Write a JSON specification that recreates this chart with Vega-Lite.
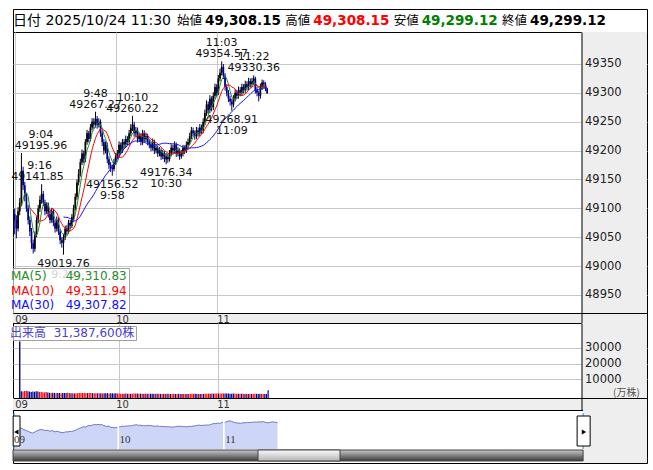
{
  "$schema": "https://vega.github.io/schema/vega-lite/v6.json",
  "background": "white",
  "padding": {"left": 10, "right": 9, "top": 8, "bottom": 8},
  "spacing": 0,
  "bounds": "flush",
  "config": {
    "view": {"stroke": "#000", "strokeWidth": 1},
    "font": "DejaVu Sans",
    "axis": {"labelFont": "DejaVu Sans", "titleFont": "DejaVu Sans", "labelOverlap": false}
  },
  "resolve": {"scale": {"color": "independent", "shape": "independent"}, "legend": {"color": "independent", "shape": "independent"}},
  "datasets": {
    "hdr": [
      {"lbl": "始値", "val": "49,308.15"},
      {"lbl": "高値", "val": "49,308.15"},
      {"lbl": "安値", "val": "49,299.12"},
      {"lbl": "終値", "val": "49,299.12"}
    ],
    "hdrDate": [{"lbl": "始値", "date": "日付 2025/10/24 11:30"}],
    "ann": [
      {"m": 4, "p": 49195.96, "t": "9:04", "v": "49195.96", "k": "hi"},
      {"m": 16, "p": 49141.85, "t": "9:16", "v": "49141.85", "k": "hi"},
      {"m": 48, "p": 49267.27, "t": "9:48", "v": "49267.27", "k": "hi"},
      {"m": 70, "p": 49260.22, "t": "10:10", "v": "49260.22", "k": "hi"},
      {"m": 123, "p": 49354.57, "t": "11:03", "v": "49354.57", "k": "hi"},
      {"m": 142, "p": 49330.36, "t": "11:22", "v": "49330.36", "k": "hi"},
      {"m": 29, "p": 49019.76, "t": "9:29", "v": "49019.76", "k": "lo"},
      {"m": 58, "p": 49156.52, "t": "9:58", "v": "49156.52", "k": "lo"},
      {"m": 90, "p": 49176.34, "t": "10:30", "v": "49176.34", "k": "lo"},
      {"m": 129, "p": 49268.91, "t": "11:09", "v": "49268.91", "k": "lo"}
    ],
    "k": [
      {"m":0,"o":49090,"h":49100,"l":49055,"c":49080,"v":34000},
      {"m":1,"o":49080,"h":49088,"l":49048,"c":49065,"v":2500},
      {"m":2,"o":49065,"h":49102,"l":49060,"c":49095,"v":2300},
      {"m":3,"o":49095,"h":49118,"l":49088,"c":49110,"v":2600},
      {"m":4,"o":49110,"h":49195.96,"l":49104,"c":49165,"v":2800},
      {"m":5,"o":49165,"h":49172,"l":49132,"c":49140,"v":2400},
      {"m":6,"o":49140,"h":49146,"l":49112,"c":49120,"v":2200},
      {"m":7,"o":49120,"h":49126,"l":49094,"c":49100,"v":2000},
      {"m":8,"o":49100,"h":49106,"l":49072,"c":49080,"v":2300},
      {"m":9,"o":49080,"h":49086,"l":49052,"c":49060,"v":2100},
      {"m":10,"o":49060,"h":49066,"l":49030,"c":49040,"v":2400},
      {"m":11,"o":49040,"h":49046,"l":49022,"c":49030,"v":2200},
      {"m":12,"o":49030,"h":49060,"l":49025,"c":49055,"v":2000},
      {"m":13,"o":49055,"h":49086,"l":49050,"c":49080,"v":1900},
      {"m":14,"o":49080,"h":49106,"l":49074,"c":49100,"v":1800},
      {"m":15,"o":49100,"h":49122,"l":49094,"c":49115,"v":1700},
      {"m":16,"o":49115,"h":49141.85,"l":49108,"c":49125,"v":1900},
      {"m":17,"o":49125,"h":49130,"l":49104,"c":49110,"v":1600},
      {"m":18,"o":49110,"h":49115,"l":49088,"c":49095,"v":1500},
      {"m":19,"o":49095,"h":49111,"l":49090,"c":49105,"v":1400},
      {"m":20,"o":49105,"h":49110,"l":49084,"c":49090,"v":1500},
      {"m":21,"o":49090,"h":49096,"l":49074,"c":49080,"v":1400},
      {"m":22,"o":49080,"h":49101,"l":49075,"c":49095,"v":1300},
      {"m":23,"o":49095,"h":49099,"l":49069,"c":49075,"v":1400},
      {"m":24,"o":49075,"h":49080,"l":49058,"c":49065,"v":1300},
      {"m":25,"o":49065,"h":49086,"l":49060,"c":49080,"v":1200},
      {"m":26,"o":49080,"h":49084,"l":49054,"c":49060,"v":1300},
      {"m":27,"o":49060,"h":49064,"l":49038,"c":49045,"v":1400},
      {"m":28,"o":49045,"h":49050,"l":49032,"c":49040,"v":1300},
      {"m":29,"o":49040,"h":49056,"l":49019.76,"c":49050,"v":1500},
      {"m":30,"o":49050,"h":49070,"l":49045,"c":49065,"v":1300},
      {"m":31,"o":49065,"h":49071,"l":49054,"c":49060,"v":1100},
      {"m":32,"o":49060,"h":49080,"l":49056,"c":49075,"v":1100},
      {"m":33,"o":49075,"h":49080,"l":49064,"c":49070,"v":1000},
      {"m":34,"o":49070,"h":49090,"l":49066,"c":49085,"v":1100},
      {"m":35,"o":49085,"h":49106,"l":49080,"c":49100,"v":1200},
      {"m":36,"o":49100,"h":49126,"l":49096,"c":49120,"v":1300},
      {"m":37,"o":49120,"h":49150,"l":49115,"c":49145,"v":1400},
      {"m":38,"o":49145,"h":49168,"l":49140,"c":49160,"v":1300},
      {"m":39,"o":49160,"h":49186,"l":49155,"c":49180,"v":1300},
      {"m":40,"o":49180,"h":49202,"l":49175,"c":49195,"v":1400},
      {"m":41,"o":49195,"h":49200,"l":49178,"c":49185,"v":1200},
      {"m":42,"o":49185,"h":49220,"l":49180,"c":49215,"v":1300},
      {"m":43,"o":49215,"h":49236,"l":49210,"c":49230,"v":1300},
      {"m":44,"o":49230,"h":49234,"l":49214,"c":49220,"v":1200},
      {"m":45,"o":49220,"h":49246,"l":49216,"c":49240,"v":1200},
      {"m":46,"o":49240,"h":49256,"l":49235,"c":49250,"v":1200},
      {"m":47,"o":49250,"h":49256,"l":49238,"c":49245,"v":1100},
      {"m":48,"o":49245,"h":49267.27,"l":49240,"c":49255,"v":1200},
      {"m":49,"o":49255,"h":49260,"l":49238,"c":49245,"v":1100},
      {"m":50,"o":49245,"h":49256,"l":49240,"c":49250,"v":1000},
      {"m":51,"o":49250,"h":49254,"l":49224,"c":49230,"v":1100},
      {"m":52,"o":49230,"h":49235,"l":49208,"c":49215,"v":1100},
      {"m":53,"o":49215,"h":49220,"l":49193,"c":49200,"v":1200},
      {"m":54,"o":49200,"h":49216,"l":49195,"c":49210,"v":1000},
      {"m":55,"o":49210,"h":49214,"l":49178,"c":49185,"v":1100},
      {"m":56,"o":49185,"h":49190,"l":49168,"c":49175,"v":1100},
      {"m":57,"o":49175,"h":49180,"l":49163,"c":49170,"v":1000},
      {"m":58,"o":49170,"h":49176,"l":49156.52,"c":49168,"v":1200},
      {"m":59,"o":49168,"h":49186,"l":49164,"c":49180,"v":1000},
      {"m":60,"o":49180,"h":49196,"l":49175,"c":49190,"v":1000},
      {"m":61,"o":49190,"h":49201,"l":49185,"c":49195,"v":900},
      {"m":62,"o":49195,"h":49216,"l":49190,"c":49210,"v":900},
      {"m":63,"o":49210,"h":49214,"l":49194,"c":49200,"v":900},
      {"m":64,"o":49200,"h":49220,"l":49196,"c":49215,"v":950},
      {"m":65,"o":49215,"h":49220,"l":49204,"c":49210,"v":900},
      {"m":66,"o":49210,"h":49226,"l":49205,"c":49220,"v":900},
      {"m":67,"o":49220,"h":49225,"l":49209,"c":49215,"v":850},
      {"m":68,"o":49215,"h":49236,"l":49210,"c":49230,"v":900},
      {"m":69,"o":49230,"h":49246,"l":49225,"c":49240,"v":950},
      {"m":70,"o":49240,"h":49260.22,"l":49234,"c":49245,"v":1000},
      {"m":71,"o":49245,"h":49250,"l":49224,"c":49230,"v":950},
      {"m":72,"o":49230,"h":49241,"l":49224,"c":49235,"v":900},
      {"m":73,"o":49235,"h":49240,"l":49214,"c":49220,"v":900},
      {"m":74,"o":49220,"h":49231,"l":49215,"c":49225,"v":850},
      {"m":75,"o":49225,"h":49230,"l":49209,"c":49215,"v":850},
      {"m":76,"o":49215,"h":49236,"l":49210,"c":49230,"v":900},
      {"m":77,"o":49230,"h":49235,"l":49214,"c":49220,"v":850},
      {"m":78,"o":49220,"h":49231,"l":49215,"c":49225,"v":800},
      {"m":79,"o":49225,"h":49229,"l":49209,"c":49215,"v":850},
      {"m":80,"o":49215,"h":49220,"l":49204,"c":49210,"v":800},
      {"m":81,"o":49210,"h":49215,"l":49199,"c":49205,"v":800},
      {"m":82,"o":49205,"h":49221,"l":49200,"c":49215,"v":800},
      {"m":83,"o":49215,"h":49219,"l":49194,"c":49200,"v":850},
      {"m":84,"o":49200,"h":49211,"l":49195,"c":49205,"v":800},
      {"m":85,"o":49205,"h":49209,"l":49189,"c":49195,"v":800},
      {"m":86,"o":49195,"h":49206,"l":49190,"c":49200,"v":750},
      {"m":87,"o":49200,"h":49204,"l":49184,"c":49190,"v":800},
      {"m":88,"o":49190,"h":49201,"l":49185,"c":49195,"v":750},
      {"m":89,"o":49195,"h":49199,"l":49180,"c":49185,"v":800},
      {"m":90,"o":49185,"h":49196,"l":49176.34,"c":49190,"v":850},
      {"m":91,"o":49190,"h":49195,"l":49179,"c":49185,"v":750},
      {"m":92,"o":49185,"h":49201,"l":49181,"c":49195,"v":750},
      {"m":93,"o":49195,"h":49211,"l":49190,"c":49205,"v":800},
      {"m":94,"o":49205,"h":49210,"l":49194,"c":49200,"v":750},
      {"m":95,"o":49200,"h":49216,"l":49195,"c":49210,"v":750},
      {"m":96,"o":49210,"h":49214,"l":49189,"c":49195,"v":800},
      {"m":97,"o":49195,"h":49206,"l":49190,"c":49200,"v":700},
      {"m":98,"o":49200,"h":49204,"l":49184,"c":49190,"v":750},
      {"m":99,"o":49190,"h":49201,"l":49186,"c":49195,"v":700},
      {"m":100,"o":49195,"h":49210,"l":49190,"c":49205,"v":750},
      {"m":101,"o":49205,"h":49209,"l":49194,"c":49200,"v":700},
      {"m":102,"o":49200,"h":49216,"l":49196,"c":49210,"v":750},
      {"m":103,"o":49210,"h":49221,"l":49205,"c":49215,"v":750},
      {"m":104,"o":49215,"h":49231,"l":49210,"c":49225,"v":800},
      {"m":105,"o":49225,"h":49241,"l":49220,"c":49235,"v":850},
      {"m":106,"o":49235,"h":49240,"l":49224,"c":49230,"v":800},
      {"m":107,"o":49230,"h":49235,"l":49219,"c":49225,"v":750},
      {"m":108,"o":49225,"h":49241,"l":49220,"c":49235,"v":800},
      {"m":109,"o":49235,"h":49240,"l":49224,"c":49230,"v":750},
      {"m":110,"o":49230,"h":49246,"l":49225,"c":49240,"v":800},
      {"m":111,"o":49240,"h":49245,"l":49229,"c":49235,"v":750},
      {"m":112,"o":49235,"h":49256,"l":49230,"c":49250,"v":850},
      {"m":113,"o":49250,"h":49271,"l":49245,"c":49265,"v":900},
      {"m":114,"o":49265,"h":49287,"l":49260,"c":49280,"v":950},
      {"m":115,"o":49280,"h":49285,"l":49263,"c":49270,"v":900},
      {"m":116,"o":49270,"h":49296,"l":49265,"c":49290,"v":950},
      {"m":117,"o":49290,"h":49294,"l":49268,"c":49275,"v":900},
      {"m":118,"o":49275,"h":49301,"l":49270,"c":49295,"v":950},
      {"m":119,"o":49295,"h":49316,"l":49290,"c":49310,"v":1000},
      {"m":120,"o":49310,"h":49315,"l":49294,"c":49300,"v":950},
      {"m":121,"o":49300,"h":49331,"l":49296,"c":49325,"v":1000},
      {"m":122,"o":49325,"h":49342,"l":49320,"c":49335,"v":1050},
      {"m":123,"o":49335,"h":49354.57,"l":49330,"c":49345,"v":1100},
      {"m":124,"o":49345,"h":49350,"l":49324,"c":49330,"v":1000},
      {"m":125,"o":49330,"h":49334,"l":49304,"c":49310,"v":1000},
      {"m":126,"o":49310,"h":49315,"l":49294,"c":49300,"v":950},
      {"m":127,"o":49300,"h":49305,"l":49284,"c":49290,"v":900},
      {"m":128,"o":49290,"h":49295,"l":49278,"c":49285,"v":900},
      {"m":129,"o":49285,"h":49290,"l":49268.91,"c":49280,"v":950},
      {"m":130,"o":49280,"h":49296,"l":49275,"c":49290,"v":850},
      {"m":131,"o":49290,"h":49306,"l":49285,"c":49300,"v":850},
      {"m":132,"o":49300,"h":49305,"l":49289,"c":49295,"v":800},
      {"m":133,"o":49295,"h":49311,"l":49290,"c":49305,"v":800},
      {"m":134,"o":49305,"h":49310,"l":49294,"c":49300,"v":800},
      {"m":135,"o":49300,"h":49316,"l":49295,"c":49310,"v":800},
      {"m":136,"o":49310,"h":49315,"l":49299,"c":49305,"v":750},
      {"m":137,"o":49305,"h":49321,"l":49300,"c":49315,"v":800},
      {"m":138,"o":49315,"h":49320,"l":49304,"c":49310,"v":750},
      {"m":139,"o":49310,"h":49326,"l":49305,"c":49320,"v":800},
      {"m":140,"o":49320,"h":49325,"l":49309,"c":49315,"v":750},
      {"m":141,"o":49315,"h":49326,"l":49310,"c":49320,"v":750},
      {"m":142,"o":49320,"h":49330.36,"l":49314,"c":49325,"v":800},
      {"m":143,"o":49325,"h":49328,"l":49299,"c":49305,"v":800},
      {"m":144,"o":49305,"h":49310,"l":49294,"c":49300,"v":750},
      {"m":145,"o":49300,"h":49304,"l":49285,"c":49295,"v":800},
      {"m":146,"o":49295,"h":49316,"l":49290,"c":49310,"v":750},
      {"m":147,"o":49310,"h":49323,"l":49305,"c":49318,"v":750},
      {"m":148,"o":49318,"h":49322,"l":49309,"c":49315,"v":700},
      {"m":149,"o":49315,"h":49319,"l":49303,"c":49308.15,"v":750},
      {"m":150,"o":49308.15,"h":49308.15,"l":49299.12,"c":49299.12,"v":3138.76}
    ]
  },
  "vconcat": [
    {
      "width": 634,
      "height": 23,
      "layer": [
        {
          "data": {"name": "hdrDate"},
          "mark": {"type": "text", "align": "right", "baseline": "middle", "dx": -6, "font": "DejaVu Sans, Noto Sans CJK JP", "fontSize": 14, "color": "#000"},
          "encoding": {
            "x": {"field": "lbl", "type": "nominal", "scale": {"type": "point", "domain": ["始値", "高値", "安値", "終値"], "range": [164, 489], "padding": 0}, "axis": null},
            "text": {"field": "date"}
          }
        },
        {
          "data": {"name": "hdr"},
          "mark": {"type": "text", "align": "left", "baseline": "middle", "font": "Noto Sans CJK JP", "fontSize": 12.5, "color": "#000"},
          "encoding": {
            "x": {"field": "lbl", "type": "nominal"},
            "text": {"field": "lbl"}
          }
        },
        {
          "data": {"name": "hdr"},
          "mark": {"type": "text", "align": "left", "baseline": "middle", "dx": 28, "font": "DejaVu Sans", "fontSize": 13.5, "fontWeight": "bold"},
          "encoding": {
            "x": {"field": "lbl", "type": "nominal"},
            "text": {"field": "val"},
            "color": {"condition": [{"test": "datum.lbl=='高値'", "value": "#ff0000"}, {"test": "datum.lbl=='安値'", "value": "#008000"}], "value": "#000000"}
          }
        }
      ]
    },
    {
      "width": 634,
      "height": 291,
      "resolve": {"scale": {"x": "independent", "y": "independent"}, "axis": {"x": "independent", "y": "independent"}},
      "layer": [
        {
          "data": {"name": "k"},
          "layer": [
            {
              "mark": {"type": "rule", "strokeWidth": 1},
              "encoding": {
                "x": {"field": "m", "type": "quantitative", "title": null, "scale": {"domain": [-1.0, 375.7], "nice": false, "zero": false}, "axis": {"orient": "top", "grid": true, "gridColor": "#c8c8c8", "values": [0, 60, 120], "tickCount": 20, "labels": false, "ticks": false, "domain": false, "title": null, "minExtent": 0, "maxExtent": 0}},
                "y": {"field": "l", "type": "quantitative", "title": null, "scale": {"domain": [48901.5, 49405.4], "nice": false, "zero": false}, "axis": {"orient": "left", "grid": true, "gridColor": "#c8c8c8", "values": [48950, 49000, 49050, 49100, 49150, 49200, 49250, 49300, 49350], "tickCount": 20, "labels": false, "ticks": false, "domain": false, "title": null, "minExtent": 0, "maxExtent": 0}},
                "y2": {"field": "h"},
                "color": {"condition": {"test": "datum.c>=datum.o", "value": "#000000"}, "value": "#00008b"}
              }
            },
            {
              "mark": {"type": "rule", "strokeWidth": 1.7},
              "encoding": {
                "x": {"field": "m", "type": "quantitative", "title": null},
                "y": {"field": "o", "type": "quantitative", "title": null},
                "y2": {"field": "c"},
                "color": {"condition": {"test": "datum.c>=datum.o", "value": "#000000"}, "value": "#00008b"}
              }
            },
            {
              "transform": [
                {"window": [{"op": "mean", "field": "c", "as": "ma5"}, {"op": "count", "as": "n5"}], "frame": [-4, 0], "sort": [{"field": "m"}]},
                {"window": [{"op": "mean", "field": "c", "as": "ma10"}, {"op": "count", "as": "n10"}], "frame": [-9, 0], "sort": [{"field": "m"}]},
                {"window": [{"op": "mean", "field": "c", "as": "ma30"}, {"op": "count", "as": "n30"}], "frame": [-29, 0], "sort": [{"field": "m"}]},
                {"fold": ["ma5", "ma10", "ma30"], "as": ["key", "val"]},
                {"filter": "(datum.key=='ma5' && datum.n5>=5) || (datum.key=='ma10' && datum.n10>=10) || (datum.key=='ma30' && datum.n30>=30)"}
              ],
              "mark": {"type": "line", "strokeWidth": 1},
              "encoding": {
                "x": {"field": "m", "type": "quantitative", "title": null},
                "y": {"field": "val", "type": "quantitative", "title": null},
                "color": {
                  "field": "key", "type": "nominal",
                  "scale": {"domain": ["ma5", "ma10", "ma30"], "range": ["#2a8a2a", "#ff0000", "#1010ff"]},
                  "legend": {
                    "orient": "none", "legendX": 0, "legendY": 236, "title": null,
                    "labelExpr": "datum.label=='ma5' ? 'MA(5)\u00a0\u00a0\u00a0\u00a0\u00a049,310.83' : datum.label=='ma10' ? 'MA(10)\u00a0\u00a0\u00a049,311.94' : 'MA(30)\u00a0\u00a0\u00a049,307.82'",
                    "symbolType": "circle", "symbolSize": 0.01, "symbolOpacity": 0, "symbolStrokeWidth": 0, "labelOffset": -16,
                    "labelFont": "DejaVu Sans", "labelFontSize": 12, "labelLimit": 300, "rowPadding": 2.5,
                    "fillColor": "rgba(255,255,255,0.8)", "strokeColor": "#a0a0a0", "padding": 2,
                    "encode": {"labels": {"update": {"fill": {"signal": "datum.value=='ma5' ? '#2a8a2a' : datum.value=='ma10' ? '#ff0000' : '#1010ff'"}}}}
                  }
                }
              }
            },
            {
              "data": {"name": "ann"},
              "transform": [{"filter": "datum.k=='hi' && datum.m!=4 && datum.m!=16"}],
              "mark": {"type": "text", "align": "center", "baseline": "alphabetic", "dy": -4, "fontSize": 11, "font": "DejaVu Sans", "color": "#111"},
              "encoding": {"x": {"field": "m", "type": "quantitative", "title": null}, "y": {"field": "p", "type": "quantitative", "title": null}, "text": {"field": "v"}}
            },
            {
              "data": {"name": "ann"},
              "transform": [{"filter": "datum.k=='hi' && datum.m!=4 && datum.m!=16"}],
              "mark": {"type": "text", "align": "center", "baseline": "alphabetic", "dy": -15, "fontSize": 11, "font": "DejaVu Sans", "color": "#111"},
              "encoding": {"x": {"field": "m", "type": "quantitative", "title": null}, "y": {"field": "p", "type": "quantitative", "title": null}, "text": {"field": "t"}}
            },
            {
              "data": {"name": "ann"},
              "transform": [{"filter": "datum.m==4"}],
              "mark": {"type": "text", "align": "center", "baseline": "alphabetic", "dx": 19.5, "dy": -4, "fontSize": 11, "font": "DejaVu Sans", "color": "#111"},
              "encoding": {"x": {"field": "m", "type": "quantitative", "title": null}, "y": {"field": "p", "type": "quantitative", "title": null}, "text": {"field": "v"}}
            },
            {
              "data": {"name": "ann"},
              "transform": [{"filter": "datum.m==4"}],
              "mark": {"type": "text", "align": "center", "baseline": "alphabetic", "dx": 19.5, "dy": -15, "fontSize": 11, "font": "DejaVu Sans", "color": "#111"},
              "encoding": {"x": {"field": "m", "type": "quantitative", "title": null}, "y": {"field": "p", "type": "quantitative", "title": null}, "text": {"field": "t"}}
            },
            {
              "data": {"name": "ann"},
              "transform": [{"filter": "datum.m==16"}],
              "mark": {"type": "text", "align": "center", "baseline": "alphabetic", "dx": -4, "dy": -4, "fontSize": 11, "font": "DejaVu Sans", "color": "#111"},
              "encoding": {"x": {"field": "m", "type": "quantitative", "title": null}, "y": {"field": "p", "type": "quantitative", "title": null}, "text": {"field": "v"}}
            },
            {
              "data": {"name": "ann"},
              "transform": [{"filter": "datum.m==16"}],
              "mark": {"type": "text", "align": "center", "baseline": "alphabetic", "dx": -2, "dy": -15, "fontSize": 11, "font": "DejaVu Sans", "color": "#111"},
              "encoding": {"x": {"field": "m", "type": "quantitative", "title": null}, "y": {"field": "p", "type": "quantitative", "title": null}, "text": {"field": "t"}}
            },
            {
              "data": {"name": "ann"},
              "transform": [{"filter": "datum.k=='lo'"}],
              "mark": {"type": "text", "align": "center", "baseline": "alphabetic", "dy": 12, "fontSize": 11, "font": "DejaVu Sans", "color": "#111"},
              "encoding": {"x": {"field": "m", "type": "quantitative", "title": null}, "y": {"field": "p", "type": "quantitative", "title": null}, "text": {"field": "v"}}
            },
            {
              "data": {"name": "ann"},
              "transform": [{"filter": "datum.k=='lo'"}],
              "mark": {"type": "text", "align": "center", "baseline": "alphabetic", "dy": 23, "fontSize": 11, "font": "DejaVu Sans", "color": "#111"},
              "encoding": {"x": {"field": "m", "type": "quantitative", "title": null}, "y": {"field": "p", "type": "quantitative", "title": null}, "text": {"field": "t"}}
            }
          ]
        },
        {
          "data": {"values": [{}]},
          "layer": [
            {
              "mark": {"type": "rect", "color": "#eeeeee"},
              "encoding": {
                "x": {"datum": 336.8, "type": "quantitative", "scale": {"domain": [-1.0, 375.7], "nice": false, "zero": false}, "axis": {"orient": "bottom", "offset": -10, "values": [0, 60, 120], "tickCount": 20, "labelExpr": "['09','10','11'][datum.value/60]", "labelAlign": "left", "labelBaseline": "top", "labelPadding": 1.5, "labelFontSize": 10, "labelColor": "#333", "domainColor": "#000", "ticks": false, "grid": false, "title": null, "zindex": 1}},
                "x2": {"datum": 375.7},
                "y": {"datum": 48901.5, "type": "quantitative", "scale": {"domain": [48901.5, 49405.4], "nice": false, "zero": false}, "axis": {"orient": "right", "offset": -65.5, "values": [48950, 49000, 49050, 49100, 49150, 49200, 49250, 49300, 49350], "tickCount": 20, "format": "d", "labelOverlap": false, "labelFontSize": 11.5, "labelColor": "#222", "labelPadding": 3, "labelAlign": "left", "domainColor": "#000", "ticks": false, "grid": false, "title": null, "zindex": 1}},
                "y2": {"datum": 49405.4}
              }
            },
            {
              "mark": {"type": "rect", "color": "#eeeeee"},
              "encoding": {
                "x": {"datum": -1.0, "type": "quantitative"},
                "x2": {"datum": 375.7},
                "y": {"datum": 48901.5, "type": "quantitative"},
                "y2": {"datum": 48918.8}
              }
            }
          ]
        }
      ]
    },
    {
      "width": 634,
      "height": 87,
      "resolve": {"scale": {"x": "independent", "y": "independent"}, "axis": {"x": "independent", "y": "independent"}},
      "layer": [
        {
          "data": {"name": "k"},
          "mark": {"type": "bar", "width": 1.2},
          "encoding": {
            "x": {"field": "m", "type": "quantitative", "title": null, "scale": {"domain": [-1.0, 375.7], "nice": false, "zero": false}, "axis": {"orient": "top", "grid": true, "gridColor": "#c8c8c8", "values": [0, 60, 120], "tickCount": 20, "labels": false, "ticks": false, "domain": false, "title": null, "minExtent": 0, "maxExtent": 0}},
            "y": {"field": "v", "type": "quantitative", "title": null, "scale": {"domain": [-9432, 45640], "nice": false, "zero": false}, "axis": {"orient": "left", "grid": true, "gridColor": "#c8c8c8", "values": [10000, 20000, 30000], "tickCount": 20, "labels": false, "ticks": false, "domain": false, "title": null, "minExtent": 0, "maxExtent": 0}},
            "y2": {"datum": -1836},
            "color": {"condition": {"test": "datum.c>=datum.o", "value": "#ff0000"}, "value": "#00008b"}
          }
        },
        {
          "data": {"values": [{}]},
          "layer": [
            {
              "mark": {"type": "rect", "color": "#eeeeee"},
              "encoding": {
                "x": {"datum": 336.8, "type": "quantitative", "scale": {"domain": [-1.0, 375.7], "nice": false, "zero": false}, "axis": {"orient": "bottom", "offset": -12, "values": [0, 60, 120], "tickCount": 20, "labelExpr": "['09','10','11'][datum.value/60]", "labelAlign": "left", "labelBaseline": "top", "labelPadding": 1.5, "labelFontSize": 10, "labelColor": "#333", "domainColor": "#000", "ticks": false, "grid": false, "title": null, "zindex": 1}},
                "x2": {"datum": 375.7},
                "y": {"datum": -9432, "type": "quantitative", "scale": {"domain": [-9432, 45640], "nice": false, "zero": false}, "axis": {"orient": "right", "offset": -65.5, "values": [10000, 20000, 30000], "tickCount": 20, "format": "d", "labelOverlap": false, "labelFontSize": 11.5, "labelColor": "#222", "labelPadding": 3, "labelAlign": "left", "domainColor": "#000", "ticks": false, "grid": false, "title": "(万株)", "titleAngle": 0, "titleAlign": "left", "titleBaseline": "middle", "titleX": 31, "titleY": 69, "titleFont": "Noto Sans CJK JP", "titleFontSize": 10, "titleFontWeight": "normal", "titleColor": "#555", "zindex": 1}},
                "y2": {"datum": 45640}
              }
            },
            {
              "mark": {"type": "rect", "color": "#eeeeee"},
              "encoding": {
                "x": {"datum": -1.0, "type": "quantitative"},
                "x2": {"datum": 375.7},
                "y": {"datum": -9432, "type": "quantitative"},
                "y2": {"datum": -1836}
              }
            },
            {
              "mark": {"type": "point", "opacity": 0},
              "encoding": {
                "x": {"datum": 0, "type": "quantitative"},
                "y": {"datum": 0, "type": "quantitative"},
                "shape": {
                  "datum": "出来高\u00a0\u00a031,387,600株",
                  "legend": {
                    "orient": "none", "legendX": 0, "legendY": 3, "title": null,
                    "symbolType": "circle", "symbolSize": 0.01, "symbolOpacity": 0, "symbolStrokeWidth": 0, "labelOffset": -16,
                    "labelFont": "DejaVu Sans, Noto Sans CJK JP", "labelFontSize": 12, "labelColor": "#4a3fcf", "labelLimit": 300,
                    "fillColor": "rgba(255,255,255,0.85)", "strokeColor": "#a0a0a0", "padding": 1
                  }
                }
              }
            }
          ]
        }
      ]
    },
    {
      "width": 634,
      "height": 53,
      "layer": [
        {
          "data": {"values": [{}]},
          "mark": {"type": "rect", "color": "#eeeeee"},
          "encoding": {
            "x": {"datum": 323.6, "type": "quantitative", "scale": {"domain": [-0.28, 359.9], "nice": false, "zero": false}, "axis": {"orient": "bottom", "offset": -30, "values": [0, 60, 120], "tickCount": 20, "labelExpr": "['09','10','11'][datum.value/60]", "labelAlign": "left", "labelBaseline": "top", "labelPadding": 0, "labelFont": "Liberation Serif", "labelFontSize": 11, "labelColor": "#333", "domain": false, "ticks": false, "grid": false, "title": null, "zindex": 1}},
            "x2": {"datum": 359.9},
            "y": {"datum": 48261.7, "type": "quantitative", "scale": {"domain": [48261.7, 49623.8], "nice": false, "zero": false}, "axis": null},
            "y2": {"datum": 49623.8}
          }
        },
        {
          "data": {"name": "k"},
          "transform": [{"bin": {"step": 60}, "field": "m", "as": "hr"}],
          "mark": {"type": "area", "color": "#b9c5f5", "line": {"color": "#6d76c8", "strokeWidth": 1}},
          "encoding": {
            "x": {"field": "m", "type": "quantitative", "title": null},
            "y": {"field": "c", "type": "quantitative", "title": null},
            "y2": {"datum": 48621.5},
            "detail": {"field": "hr", "type": "nominal"}
          }
        },
        {
          "data": {"values": [{}]},
          "mark": {"type": "rect", "stroke": "#444", "strokeWidth": 1, "color": {"x1": 0, "y1": 0, "x2": 0, "y2": 1, "gradient": "linear", "stops": [{"offset": 0, "color": "#c8c8c8"}, {"offset": 1, "color": "#3a3a3a"}]}},
          "encoding": {"x": {"datum": -0.28, "type": "quantitative"}, "x2": {"datum": 323.6}, "y": {"datum": 48313.1, "type": "quantitative"}, "y2": {"datum": 48595.8}}
        },
        {
          "data": {"values": [{}]},
          "mark": {"type": "rect", "stroke": "#444", "strokeWidth": 1, "color": {"x1": 0, "y1": 0, "x2": 0, "y2": 1, "gradient": "linear", "stops": [{"offset": 0, "color": "#fafafa"}, {"offset": 1, "color": "#b4b4b4"}]}},
          "encoding": {"x": {"datum": 138.9, "type": "quantitative"}, "x2": {"datum": 185.5}, "y": {"datum": 48313.1, "type": "quantitative"}, "y2": {"datum": 48595.8}}
        },
        {
          "data": {"values": [{}]},
          "mark": {"type": "rule", "color": "#1e9be0", "strokeWidth": 1},
          "encoding": {"x": {"datum": 0.28, "type": "quantitative"}, "y": {"datum": 48621.5, "type": "quantitative"}, "y2": {"datum": 49546.7}}
        },
        {
          "data": {"values": [{}]},
          "mark": {"type": "rule", "color": "#1e9be0", "strokeWidth": 1},
          "encoding": {"x": {"datum": 323.6, "type": "quantitative"}, "y": {"datum": 48621.5, "type": "quantitative"}, "y2": {"datum": 49546.7}}
        },
        {
          "data": {"values": [{}]},
          "mark": {"type": "rect", "fill": "#ffffff", "stroke": "#000", "strokeWidth": 1},
          "encoding": {"x": {"datum": -0.2, "type": "quantitative"}, "x2": {"datum": 3.69}, "y": {"datum": 48698.6, "type": "quantitative"}, "y2": {"datum": 49469.6}}
        },
        {
          "data": {"values": [{}]},
          "mark": {"type": "rect", "fill": "#ffffff", "stroke": "#000", "strokeWidth": 1},
          "encoding": {"x": {"datum": 320.2, "type": "quantitative"}, "x2": {"datum": 327.6}, "y": {"datum": 48698.6, "type": "quantitative"}, "y2": {"datum": 49469.6}}
        },
        {
          "data": {"values": [{}]},
          "mark": {"type": "point", "shape": "triangle-left", "filled": true, "size": 25, "color": "#000", "opacity": 1},
          "encoding": {"x": {"datum": 1.6, "type": "quantitative"}, "y": {"datum": 49058.4, "type": "quantitative"}}
        },
        {
          "data": {"values": [{}]},
          "mark": {"type": "point", "shape": "triangle-right", "filled": true, "size": 25, "color": "#000", "opacity": 1},
          "encoding": {"x": {"datum": 324.1, "type": "quantitative"}, "y": {"datum": 49058.4, "type": "quantitative"}}
        }
      ]
    }
  ]
}
